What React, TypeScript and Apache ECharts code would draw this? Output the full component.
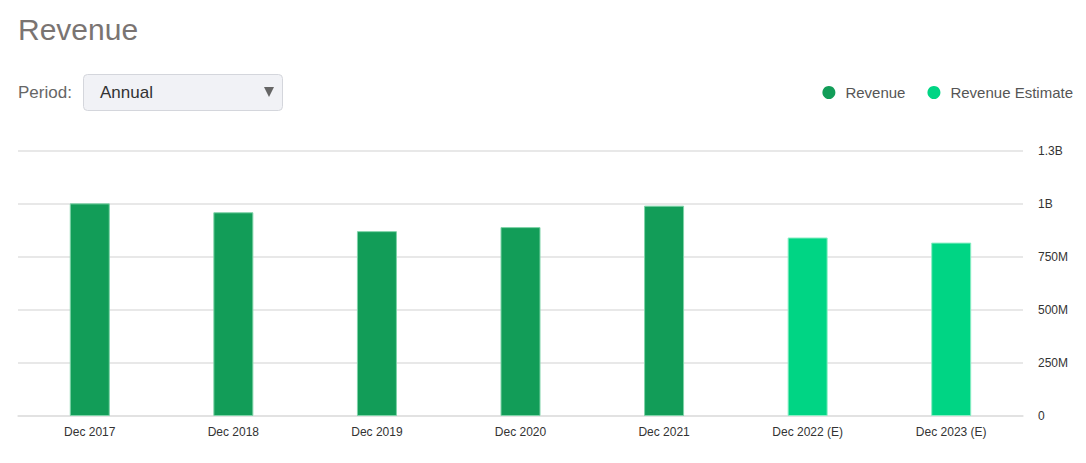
import { useEffect, useRef } from 'react'
import * as echarts from 'echarts'

const categories = [
  'Dec 2017',
  'Dec 2018',
  'Dec 2019',
  'Dec 2020',
  'Dec 2021',
  'Dec 2022 (E)',
  'Dec 2023 (E)'
]
// values in dollars; '-' where the series has no bar
const revenue = [1.003e9, 0.961e9, 0.872e9, 0.891e9, 0.992e9, '-', '-']
const revenueEstimate = ['-', '-', '-', '-', '-', 0.842e9, 0.818e9]
const legendNames = ['Revenue', 'Revenue Estimate']

const palette = {
  revenue: '#129d58',
  revenueBorder: '#7fd3a8',
  estimate: '#00d584',
  estimateBorder: '#8beec4',
  grid: '#e0e0e0',
  axisText: '#333333',
  title: '#7a7472',
  label: '#666666'
}

const font = 'Arial, "Liberation Sans", sans-serif'

const formatValue = (v: number) => {
  if (v === 0) return '0'
  if (v >= 1e9) return `${Math.round((v / 1e9) * 10) / 10}B`
  return `${Math.round(v / 1e6)}M`
}

export default function App() {
  const ref = useRef<HTMLDivElement | null>(null)

  useEffect(() => {
    document.body.style.margin = '0'
    if (!ref.current) return
    const chart = echarts.init(ref.current, null, { renderer: 'svg' })

    chart.setOption({
      animation: false,
      backgroundColor: '#ffffff',
      textStyle: { fontFamily: font },
      graphic: [
        {
          type: 'text',
          left: 18,
          top: 14,
          style: { text: 'Revenue', fontSize: 30, fill: palette.title, fontFamily: font }
        },
        {
          type: 'text',
          left: 18,
          top: 84,
          style: { text: 'Period:', fontSize: 17, fill: palette.label, fontFamily: font }
        },
        {
          type: 'rect',
          shape: { x: 83.5, y: 74.5, width: 199, height: 36, r: 4 },
          style: { fill: '#f1f2f6', stroke: '#d4d6dc', lineWidth: 1 }
        },
        {
          type: 'text',
          left: 100,
          top: 84,
          style: { text: 'Annual', fontSize: 17, fill: '#333333', fontFamily: font }
        },
        {
          type: 'polygon',
          shape: { points: [[264, 87], [274, 87], [269, 97]] },
          style: { fill: '#666666' }
        }
      ],
      legend: {
        right: 8,
        top: 80,
        icon: 'circle',
        itemWidth: 13,
        itemHeight: 13,
        itemGap: 22,
        itemStyle: { borderWidth: 0 },
        textStyle: { fontSize: 15, color: '#555555', padding: [0, 0, 0, 5] },
        data: legendNames
      },
      grid: { left: 18, right: 63, top: 151, bottom: 47, containLabel: false },
      xAxis: {
        type: 'category',
        data: categories,
        axisLine: { lineStyle: { color: palette.grid, width: 1.5 } },
        axisTick: { show: false },
        axisLabel: { color: palette.axisText, fontSize: 12, margin: 10 }
      },
      yAxis: {
        type: 'value',
        position: 'right',
        min: 0,
        max: 1.25e9,
        interval: 2.5e8,
        axisLine: { show: false },
        axisTick: { show: false },
        splitLine: { lineStyle: { color: palette.grid, width: 1.5 } },
        axisLabel: {
          color: palette.axisText,
          fontSize: 12,
          margin: 15,
          formatter: formatValue
        }
      },
      series: [
        {
          name: legendNames[0],
          type: 'bar',
          stack: 'rev',
          barWidth: 40,
          data: revenue,
          itemStyle: { color: palette.revenue, borderColor: palette.revenueBorder, borderWidth: 1 }
        },
        {
          name: legendNames[1],
          type: 'bar',
          stack: 'rev',
          barWidth: 40,
          data: revenueEstimate,
          itemStyle: { color: palette.estimate, borderColor: palette.estimateBorder, borderWidth: 1 }
        }
      ]
    })

    const handleResize = () => chart.resize()
    window.addEventListener('resize', handleResize)
    return () => {
      window.removeEventListener('resize', handleResize)
      chart.dispose()
    }
  }, [])

  return <div ref={ref} style={{ width: 1086, height: 463 }} />
}
